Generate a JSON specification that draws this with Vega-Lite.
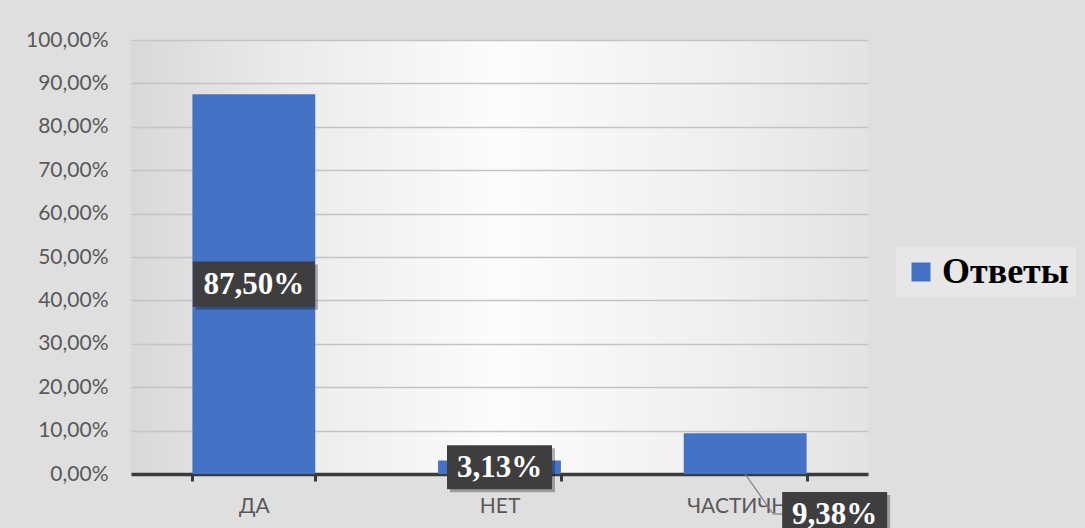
{
  "$schema": "https://vega.github.io/schema/vega-lite/v6.json",
  "width": 737,
  "height": 434,
  "autosize": "none",
  "padding": {"left": 131, "top": 40, "right": 217, "bottom": 54},
  "background": "#dfdfdf",
  "data": {
    "values": [
      {"answer": "ДА", "value": 0.875},
      {"answer": "НЕТ", "value": 0.0313},
      {"answer": "ЧАСТИЧНО", "value": 0.0938}
    ]
  },
  "transform": [{"calculate": "datum.value / 2", "as": "mid"}],
  "encoding": {
    "x": {
      "field": "answer",
      "type": "nominal",
      "sort": null,
      "scale": {"paddingInner": 0.5, "paddingOuter": 0.25},
      "axis": {
        "title": null,
        "labelAngle": 0,
        "labelFont": "Lato",
        "labelFontSize": 21,
        "labelColor": "#595959",
        "labelPadding": 14,
        "tickBand": "extent",
        "tickSize": 7,
        "tickWidth": 3,
        "tickColor": "#3a3a3a",
        "domainColor": "#3a3a3a",
        "domainWidth": 3.5,
        "grid": false,
        "zindex": 0
      }
    }
  },
  "layer": [
    {
      "mark": {"type": "bar", "color": "#4472C4"},
      "encoding": {
        "y": {
          "field": "value",
          "type": "quantitative",
          "scale": {"domain": [0, 1], "nice": false},
          "axis": {
            "title": null,
            "values": [0, 0.1, 0.2, 0.3, 0.4, 0.5, 0.6, 0.7, 0.8, 0.9, 1],
            "format": ".2%",
            "labelFont": "Lato",
            "labelFontSize": 21,
            "labelColor": "#595959",
            "labelPadding": 23,
            "domain": false,
            "ticks": false,
            "grid": true,
            "gridColor": "#c4c4c4",
            "gridWidth": 1.5,
            "zindex": 0
          }
        },
        "color": {
          "datum": "Ответы",
          "type": "nominal",
          "scale": {"range": ["#4472C4"]},
          "legend": {
            "title": null,
            "orient": "none",
            "legendX": 765,
            "legendY": 207,
            "padding": 7,
            "fillColor": "#e7e7e7",
            "symbolType": "square",
            "symbolSize": 361,
            "symbolStrokeWidth": 0,
            "symbolOpacity": 1,
            "labelFont": "Liberation Serif",
            "labelFontWeight": "bold",
            "labelFontSize": 36,
            "labelColor": "#000000",
            "labelOffset": 3,
            "labelLimit": 300
          }
        }
      }
    },
    {
      "transform": [{"filter": "datum.answer !== 'ЧАСТИЧНО'"}],
      "mark": {"type": "point", "filled": true, "opacity": 0.3, "color": "#000000", "xOffset": 3, "yOffset": 3, "strokeWidth": 0},
      "encoding": {
        "y": {"field": "mid", "type": "quantitative"},
        "shape": {
          "condition": {"test": "datum.answer === 'ДА'", "value": "M-1,-0.369H1V0.369H-1Z"},
          "value": "M-1,-0.419H1V0.419H-1Z"
        },
        "size": {
          "condition": {"test": "datum.answer === 'ДА'", "value": 14884},
          "value": 11025
        }
      }
    },
    {
      "transform": [{"filter": "datum.answer !== 'ЧАСТИЧНО'"}],
      "mark": {"type": "point", "filled": true, "opacity": 1, "color": "#3e3e3e", "strokeWidth": 0},
      "encoding": {
        "y": {"field": "mid", "type": "quantitative"},
        "shape": {
          "condition": {"test": "datum.answer === 'ДА'", "value": "M-1,-0.369H1V0.369H-1Z"},
          "value": "M-1,-0.419H1V0.419H-1Z"
        },
        "size": {
          "condition": {"test": "datum.answer === 'ДА'", "value": 14884},
          "value": 11025
        }
      }
    },
    {
      "transform": [{"filter": "datum.answer !== 'ЧАСТИЧНО'"}],
      "mark": {"type": "text", "font": "Liberation Serif", "fontWeight": "bold", "fontSize": 31, "color": "#ffffff", "align": "center", "baseline": "middle", "dy": 1},
      "encoding": {
        "y": {"field": "mid", "type": "quantitative"},
        "text": {"field": "value", "type": "quantitative", "format": ".2%"}
      }
    },
    {
      "transform": [{"filter": "datum.answer === 'ЧАСТИЧНО'"}],
      "mark": {"type": "rule", "color": "#7f7f7f", "strokeWidth": 1.2, "x2Offset": 28, "y2Offset": 40},
      "encoding": {
        "y": {"datum": 0, "type": "quantitative"},
        "x2": {"field": "answer"},
        "y2": {"datum": 0}
      }
    },
    {
      "transform": [{"filter": "datum.answer === 'ЧАСТИЧНО'"}],
      "mark": {"type": "rule", "color": "#7f7f7f", "strokeWidth": 1.2, "xOffset": 28, "x2Offset": 38, "yOffset": 40, "y2Offset": 40},
      "encoding": {
        "y": {"datum": 0, "type": "quantitative"},
        "x2": {"field": "answer"},
        "y2": {"datum": 0}
      }
    },
    {
      "transform": [{"filter": "datum.answer === 'ЧАСТИЧНО'"}],
      "mark": {"type": "point", "filled": true, "opacity": 0.3, "color": "#000000", "xOffset": 92.5, "yOffset": 43, "strokeWidth": 0, "shape": "M-1,-0.419H1V0.419H-1Z", "size": 11025},
      "encoding": {
        "y": {"datum": 0, "type": "quantitative"}
      }
    },
    {
      "transform": [{"filter": "datum.answer === 'ЧАСТИЧНО'"}],
      "mark": {"type": "point", "filled": true, "opacity": 1, "color": "#3e3e3e", "xOffset": 89.5, "yOffset": 40, "strokeWidth": 0, "shape": "M-1,-0.419H1V0.419H-1Z", "size": 11025},
      "encoding": {
        "y": {"datum": 0, "type": "quantitative"}
      }
    },
    {
      "transform": [{"filter": "datum.answer === 'ЧАСТИЧНО'"}],
      "mark": {"type": "text", "font": "Liberation Serif", "fontWeight": "bold", "fontSize": 31, "color": "#ffffff", "align": "center", "baseline": "middle", "dx": 89.5, "dy": 41},
      "encoding": {
        "y": {"datum": 0, "type": "quantitative"},
        "text": {"field": "value", "type": "quantitative", "format": ".2%"}
      }
    }
  ],
  "config": {
    "locale": {
      "number": {"decimal": ",", "thousands": " ", "grouping": [3], "currency": ["", " ₽"]}
    },
    "view": {
      "stroke": null,
      "fill": {
        "gradient": "linear",
        "x1": 0, "y1": 0.5, "x2": 1, "y2": 0.5,
        "stops": [
          {"offset": 0, "color": "#d8d8d8"},
          {"offset": 0.2, "color": "#eaeaea"},
          {"offset": 0.5, "color": "#fcfcfc"},
          {"offset": 0.8, "color": "#efefef"},
          {"offset": 1, "color": "#e3e3e3"}
        ]
      }
    }
  }
}
